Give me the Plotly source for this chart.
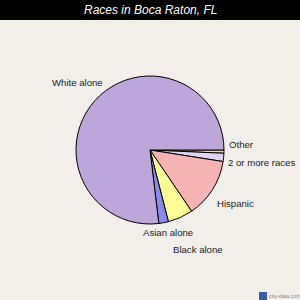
import plotly.graph_objects as go

labels = ["Other", "2 or more races", "Hispanic", "Black alone", "Asian alone", "White alone"]
values = [0.7, 1.8, 13.0, 5.5, 2.1, 76.9]
colors = ["#FBD5A8", "#E1D4F2", "#F5B3B3", "#FCFC94", "#8A8AF0", "#BDA6D9"]

# label annotation placements (paper px: left edge, vertical centre)
label_pos = {
    "White alone": (51, 83),
    "Other": (228, 144),
    "2 or more races": (227, 162),
    "Hispanic": (216, 203),
    "Asian alone": (142, 233),
    "Black alone": (172, 249),
}

FONT = "Liberation Sans, Arial, sans-serif"
W = H = 300
fig = go.Figure()
fig.add_trace(go.Pie(
    labels=labels, values=values, sort=False, direction="clockwise", rotation=90,
    marker=dict(colors=colors, line=dict(color="#000000", width=1)),
    textinfo="none", hoverinfo="label+percent", showlegend=False,
    domain=dict(x=[76 / W, 224 / W], y=[(H - 224) / H, (H - 76) / H]),
))

annotations = []
for lab in labels:
    x, y = label_pos[lab]
    annotations.append(dict(
        x=x / W, y=1 - y / H, xref="paper", yref="paper", text=lab, showarrow=False,
        xanchor="left", yanchor="middle", xshift=-1,
        font=dict(family=FONT, size=9.6, color="#222222"),
    ))
annotations.append(dict(
    x=0.5, y=1 - 10 / H, xref="paper", yref="paper", text="<i>Races in Boca Raton, FL</i>",
    showarrow=False, xanchor="center", yanchor="middle",
    font=dict(family=FONT, size=12, color="#FFFFFF"),
))
annotations.append(dict(
    x=268 / W, y=1 - 296 / H, xref="paper", yref="paper", text="city-data.com",
    showarrow=False, xanchor="left", yanchor="middle", xshift=-1,
    font=dict(family=FONT, size=5.3, color="#888888"),
))

shapes = [
    dict(type="rect", xref="paper", yref="paper", x0=0, x1=1, y0=1 - 20 / H, y1=1,
         fillcolor="#000000", line=dict(width=0), layer="below"),
    dict(type="rect", xref="paper", yref="paper", x0=259 / W, x1=267 / W, y0=0, y1=1 - 292 / H,
         fillcolor="#3A5BA8", line=dict(width=0)),
]

fig.update_layout(
    width=W, height=H, margin=dict(l=0, r=0, t=0, b=0),
    paper_bgcolor="#F2EFEB", plot_bgcolor="#F2EFEB",
    annotations=annotations, shapes=shapes,
)
fig.write_html("out.html")
